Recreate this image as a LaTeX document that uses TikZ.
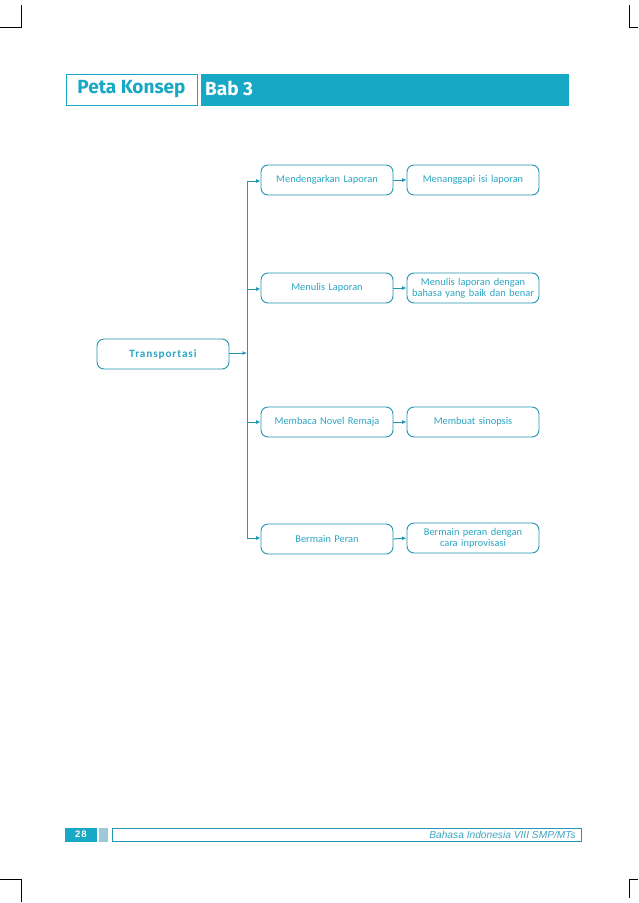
\documentclass[tikz,border=0pt]{standalone}
\usepackage{fontspec}
\usetikzlibrary{arrows.meta}
\setmainfont{Carlito}
\newfontfamily\headfont{Fira Sans}
\newfontfamily\footfont{Liberation Sans}
\definecolor{teal1}{HTML}{16A8C4}
\definecolor{line1}{HTML}{2396B3}
\definecolor{text1}{HTML}{2AA6C4}
\definecolor{lightb}{HTML}{9CC8D8}
\definecolor{foot1}{HTML}{3FA6C0}
\tikzset{
  cbox/.style={draw=line1, line width=0.9pt, rounded corners=7pt, minimum width=132pt, minimum height=30pt, text width=130pt, align=center, inner sep=1pt, text=text1, font=\fontsize{10.4}{11.4}\selectfont},
  conn/.style={draw=line1, line width=1pt, -{Latex[length=4.5pt,width=4pt]}},
  bus/.style={draw=line1, line width=1pt},
  crop/.style={draw=black, line width=0.8pt}
}
\begin{document}
\begin{tikzpicture}[x=1pt,y=-1pt]
\useasboundingbox (0,0) rectangle (638,903);
\fill[white] (0,0) rectangle (638,903);
% crop marks
\draw[crop] (0,27) -- (21,27) -- (21,5);
\draw[crop] (638,27) -- (629,27) -- (629,5);
\draw[crop] (0,879) -- (21,879) -- (21,902);
\draw[crop] (638,879) -- (629,879) -- (629,898);
% header
\node[draw=teal1, line width=0.8pt, minimum width=131pt, minimum height=31pt, inner sep=0pt, text=teal1, font=\headfont\bfseries\fontsize{19}{21}\selectfont] (peta) at (131.5,89.5) {Peta Konsep};
\node[fill=teal1, minimum width=368pt, minimum height=32pt, inner sep=0pt] (bar) at (385,89.5) {};
\node[anchor=west, text=white, font=\headfont\bfseries\fontsize{19}{21}\selectfont, inner sep=0pt] (bab) at (205,88.5) {Bab 3};
% nodes
\node[cbox, font=\bfseries\fontsize{11.2}{12}\selectfont] (t) at (163,354) {\addfontfeature{LetterSpace=8}Transportasi};
\node[cbox] (a1) at (327,180) {Mendengarkan Laporan};
\node[cbox] (a2) at (327,288) {Menulis Laporan};
\node[cbox] (a3) at (327,422) {Membaca Novel Remaja};
\node[cbox] (a4) at (327,539) {Bermain Peran};
\node[cbox] (b1) at (473,180) {Menanggapi isi laporan};
\node[cbox] (b2) at (473,288) {Menulis laporan dengan\\bahasa yang baik dan benar};
\node[cbox] (b3) at (473,422) {Membuat sinopsis};
\node[cbox] (b4) at (473,538) {Bermain peran dengan\\cara inprovisasi};
% bus
\coordinate (c1) at (247,181);
\coordinate (c2) at (247,289);
\coordinate (c3) at (247,422);
\coordinate (c4) at (247,538);
\coordinate (ct) at (247,353);
\draw[bus] (c1) -- (c4);
\draw[conn] (t.east |- ct) -- (ct);
\draw[conn] (c1) -- (a1.west |- c1);
\draw[conn] (c2) -- (a2.west |- c2);
\draw[conn] (c3) -- (a3.west |- c3);
\draw[conn] (c4) -- (a4.west |- c4);
\draw[conn] (a1.east) -- (b1.west);
\draw[conn] (a2.east) -- (b2.west);
\draw[conn] (a3.east) -- (b3.west);
\draw[conn] (a4.east) -- (b4.west);
% footer
\node[fill=teal1, minimum width=32pt, minimum height=14pt, inner sep=0pt, text=white, font=\footfont\bfseries\fontsize{9.5}{10}\selectfont] (pg) at (81,834.5) {\addfontfeature{LetterSpace=10}28};
\node[fill=lightb, minimum width=9pt, minimum height=14pt, inner sep=0pt] (lb) at (103.5,834.5) {};
\node[draw=line1, line width=0.8pt, minimum width=469pt, minimum height=13pt, inner sep=0pt] (fbox) at (346.5,834.5) {};
\node[anchor=east, inner sep=0pt, text=foot1, font=\footfont\itshape\fontsize{10.2}{11}\selectfont] (ft) at (576,834.5) {Bahasa Indonesia VIII SMP/MTs};
\end{tikzpicture}
\end{document}
